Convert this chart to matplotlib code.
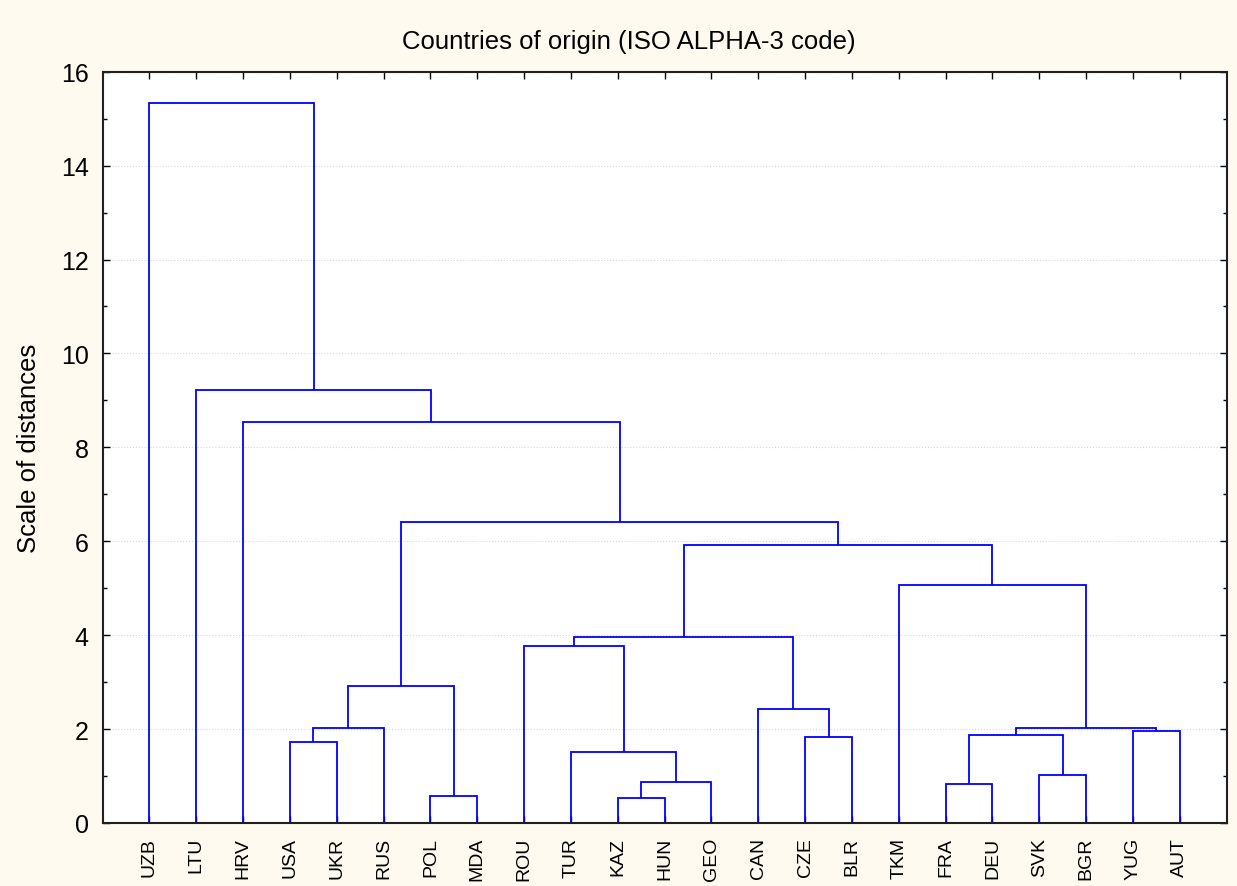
import numpy as np
import matplotlib
matplotlib.use('Agg')
import matplotlib.pyplot as plt
from matplotlib.ticker import MultipleLocator

plt.rcParams['font.family'] = ['Liberation Sans', 'DejaVu Sans']

# leaf order along the x axis
leaves = ['UZB', 'LTU', 'HRV', 'USA', 'UKR', 'RUS', 'POL', 'MDA', 'ROU', 'TUR',
          'KAZ', 'HUN', 'GEO', 'CAN', 'CZE', 'BLR', 'TKM', 'FRA', 'DEU', 'SVK',
          'BGR', 'YUG', 'AUT']

# merges: (left node, right node, linkage distance, new node name)
merges = [
    ('USA', 'UKR', 1.72, 'c1'),
    ('c1', 'RUS', 2.02, 'c2'),
    ('POL', 'MDA', 0.58, 'c3'),
    ('c2', 'c3', 2.92, 'c4'),
    ('KAZ', 'HUN', 0.53, 'c5'),
    ('c5', 'GEO', 0.88, 'c6'),
    ('TUR', 'c6', 1.52, 'c7'),
    ('ROU', 'c7', 3.76, 'c8'),
    ('CZE', 'BLR', 1.84, 'c9'),
    ('CAN', 'c9', 2.43, 'c10'),
    ('c8', 'c10', 3.97, 'c11'),
    ('FRA', 'DEU', 0.84, 'c12'),
    ('SVK', 'BGR', 1.03, 'c13'),
    ('c12', 'c13', 1.88, 'c14'),
    ('YUG', 'AUT', 1.95, 'c15'),
    ('c14', 'c15', 2.02, 'c16'),
    ('TKM', 'c16', 5.06, 'c17'),
    ('c11', 'c17', 5.91, 'c18'),
    ('c4', 'c18', 6.40, 'c19'),
    ('HRV', 'c19', 8.53, 'c20'),
    ('LTU', 'c20', 9.23, 'c21'),
    ('UZB', 'c21', 15.34, 'c22'),
]

fig = plt.figure(figsize=(12.37, 8.87), dpi=100, facecolor='#fefaf0')
ax = fig.add_axes([102.5 / 1237, 1 - 824 / 887, (1226.7 - 102.5) / 1237, (824 - 72.7) / 887])
ax.set_facecolor('white')

line_kw = dict(color='#0000ff', lw=1.3, solid_capstyle='butt', solid_joinstyle='miter')

# node x position and height
pos = {name: (i + 1, 0.0) for i, name in enumerate(leaves)}
for a, b, h, new in merges:
    xa, ya = pos[a]
    xb, yb = pos[b]
    ax.plot([xa, xa, xb, xb], [ya, h, h, yb], **line_kw)
    pos[new] = ((xa + xb) / 2.0, h)

ax.set_xlim(0, len(leaves) + 1)
ax.set_ylim(0, 16)
ax.set_xticks(np.arange(1, len(leaves) + 1))
ax.set_xticklabels(leaves, rotation=90, fontsize=14)
ax.yaxis.set_major_locator(MultipleLocator(2))
ax.yaxis.set_minor_locator(MultipleLocator(1))
ax.tick_params(axis='y', which='major', labelsize=18, direction='in', length=5,
               width=1, right=True, pad=10)
ax.tick_params(axis='y', which='minor', direction='in', length=3, width=1, right=True)
ax.tick_params(axis='x', which='major', direction='in', length=5, width=1, top=True, pad=10)
ax.grid(axis='y', which='major', color='#d8d8d8', linestyle=':', lw=0.8)
ax.set_axisbelow(True)
for s in ax.spines.values():
    s.set_linewidth(1.5)
    s.set_color('#202020')

fig.text(29 / 1237, 1 - 448 / 887, 'Scale of distances', rotation=90,
         ha='center', va='center', fontsize=18.5)
fig.text(629 / 1237, 1 - 42 / 887, 'Countries of origin (ISO ALPHA-3 code)',
         ha='center', va='center', fontsize=18.5)

fig.savefig('out.png', dpi=100, facecolor=fig.get_facecolor())
